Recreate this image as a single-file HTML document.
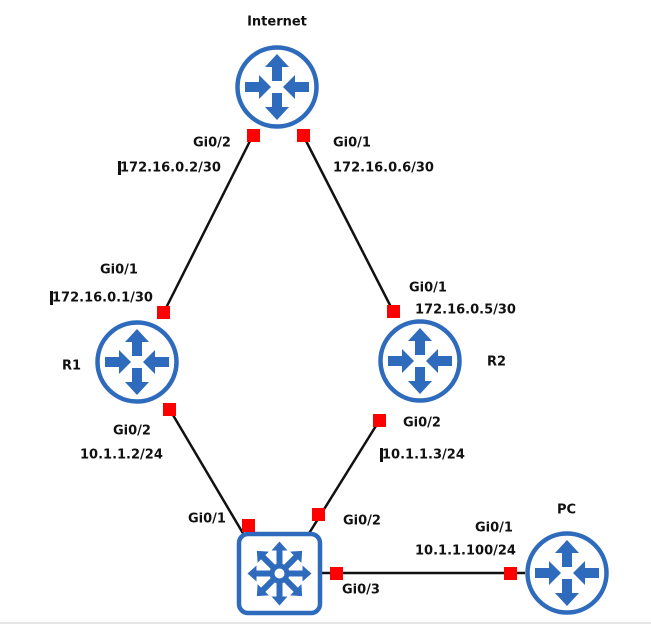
<!DOCTYPE html>
<html><head><style>
body{margin:0;background:#fff;}
svg text{font-family:"DejaVu Sans","Liberation Sans",sans-serif;font-weight:bold;font-size:13px;fill:#111;dominant-baseline:middle;}
</style></head><body>
<svg width="651" height="625" viewBox="0 0 651 625" xmlns="http://www.w3.org/2000/svg">
<defs>
<g id="rt">
<circle r="39.5" fill="#fff" stroke="#2f6bbd" stroke-width="4.5"/>
<g fill="#2f6bbd">
<path d="M-5,-6 L5,-6 L5,-20 L12,-20 L0,-33 L-12,-20 L-5,-20Z"/>
<path d="M-5,6 L5,6 L5,20 L12,20 L0,33 L-12,20 L-5,20Z"/>
<path d="M-32,-5 L-18,-5 L-18,-12 L-6,0 L-18,12 L-18,5 L-32,5Z"/>
<path d="M32,-5 L18,-5 L18,-12 L6,0 L18,12 L18,5 L32,5Z"/>
</g></g>
<g id="arm"><path d="M9,-3 L23,-3 L23,-8 L32,0 L23,8 L23,3 L9,3Z" fill="#2f6bbd"/></g>
</defs>
<line x1="0" y1="623" x2="651" y2="623" stroke="#ccc" stroke-width="1"/>
<g stroke="#111" stroke-width="2.5">
<line x1="253" y1="135" x2="164" y2="312"/>
<line x1="303" y1="135" x2="393" y2="311"/>
<line x1="170" y1="410" x2="244" y2="535"/>
<line x1="379" y1="421" x2="308" y2="535"/>
<line x1="320" y1="573" x2="525" y2="573"/>
</g>
<use href="#rt" x="277" y="87"/>
<use href="#rt" x="137" y="362"/>
<use href="#rt" x="420" y="361"/>
<use href="#rt" x="567" y="573"/>
<rect x="239" y="534" width="81" height="79" rx="9" fill="#fff" stroke="#2f6bbd" stroke-width="4.5"/>
<g transform="translate(279.5,573.5)">
<circle r="7.5" fill="#fff" stroke="#2f6bbd" stroke-width="5"/>
<use href="#arm"/><use href="#arm" transform="rotate(45)"/><use href="#arm" transform="rotate(90)"/><use href="#arm" transform="rotate(135)"/><use href="#arm" transform="rotate(180)"/><use href="#arm" transform="rotate(225)"/><use href="#arm" transform="rotate(270)"/><use href="#arm" transform="rotate(315)"/>
</g>
<g fill="#f00">
<rect x="247" y="129" width="13" height="13"/>
<rect x="297" y="129" width="13" height="13"/>
<rect x="157" y="306" width="13" height="13"/>
<rect x="163" y="403" width="13" height="13"/>
<rect x="387" y="305" width="13" height="13"/>
<rect x="373" y="414" width="13" height="13"/>
<rect x="242" y="519" width="13" height="13"/>
<rect x="312" y="508" width="13" height="13"/>
<rect x="330" y="567" width="13" height="13"/>
<rect x="504" y="567" width="13" height="13"/>
</g>
<rect x="118" y="161" width="3" height="14" fill="#111"/>
<rect x="50" y="291" width="3" height="14" fill="#111"/>
<rect x="380" y="448" width="3" height="14" fill="#111"/>
<text x="277" y="22" text-anchor="middle">Internet</text>
<text x="193" y="143">Gi0/2</text>
<text x="120" y="168">172.16.0.2/30</text>
<text x="333" y="143">Gi0/1</text>
<text x="333" y="168">172.16.0.6/30</text>
<text x="100" y="270">Gi0/1</text>
<text x="52" y="298">172.16.0.1/30</text>
<text x="62" y="366">R1</text>
<text x="409" y="288">Gi0/1</text>
<text x="415" y="310">172.16.0.5/30</text>
<text x="487" y="362">R2</text>
<text x="113" y="431">Gi0/2</text>
<text x="80" y="455">10.1.1.2/24</text>
<text x="403" y="423">Gi0/2</text>
<text x="382" y="455">10.1.1.3/24</text>
<text x="188" y="519">Gi0/1</text>
<text x="343" y="521">Gi0/2</text>
<text x="342" y="590">Gi0/3</text>
<text x="557" y="510">PC</text>
<text x="475" y="528">Gi0/1</text>
<text x="415" y="551">10.1.1.100/24</text>
</svg>
</body></html>
